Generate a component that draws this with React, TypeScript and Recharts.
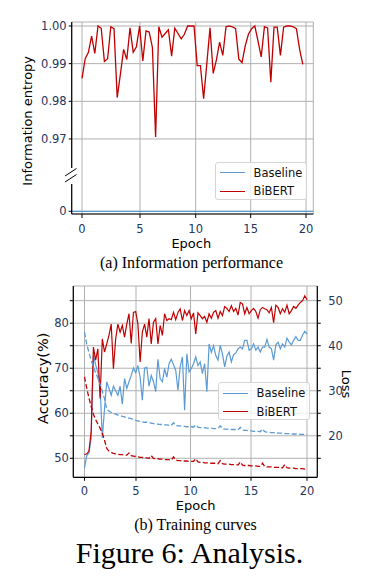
import React from 'react';
import { LineChart, Line, XAxis, YAxis, CartesianGrid, ReferenceLine, Legend } from 'recharts';

// ---------- (a) information entropy ----------
const entropyEpochTicks = [0, 5, 10, 15, 20];
const entropyEpochTickPos = [0, 5.18, 10.15, 15.06, 20];
const entropyStepsPerEpoch = 3.5;
const entropyTicks = [0, 0.97, 0.98, 0.99, 1.0];
const entropyBaseline = 0;
const entropyBiBERT = [
  0.9861, 0.9913, 0.993, 0.9973, 0.9927, 1.0, 0.9994, 0.9906, 0.9913, 0.9998,
  0.9993, 0.981, 0.9872, 0.9938, 0.9911, 0.9995, 0.993, 0.9945, 1.0, 0.9907,
  0.9987, 0.9984, 0.9943, 0.9705, 0.9998, 0.997, 0.998, 0.999, 0.992, 0.9994,
  0.998, 0.9966, 0.9978, 1.0, 1.0, 1.0, 0.9895, 0.9895, 0.9807, 0.99,
  0.9995, 0.9874, 0.991, 0.9957, 0.9922, 0.9998, 1.0, 0.9998, 0.9993, 0.9912,
  0.9903, 0.9947, 0.9978, 0.9993, 1.0, 0.996, 0.9918, 0.9998, 0.9995, 0.9851,
  0.9997, 0.9997, 0.9922, 0.9997, 1.0, 1.0, 0.9998, 0.9993, 0.9938, 0.9898,
];

// ---------- (b) training curves ----------
const trainEpochTicks = [0, 5, 10, 15, 20];
const trainEpochTickPos = [0, 4.63, 9.53, 14.97, 20];
const trainStepsPerEpoch = 5;
const accTicks = [50, 55, 60, 65, 70, 75, 80, 85];
const lossTicks = [15, 20, 25, 30, 35, 40, 45, 50];
const accBaseline = [
  47.8, 50.6, 51.2, 54.5, 73.0, 70.8, 69.0, 66.0, 54.5, 61.0,
  67.0, 65.5, 64.0, 66.0, 65.0, 64.0, 66.0, 62.0, 67.7, 65.5,
  67.0, 68.4, 70.0, 69.0, 70.6, 68.0, 62.9, 70.0, 70.2, 66.0,
  68.4, 67.0, 64.8, 72.0, 67.7, 67.0, 69.9, 68.0, 71.0, 72.0,
  70.8, 69.5, 65.1, 70.3, 72.5, 60.7, 73.2, 69.2, 69.9, 71.0,
  72.5, 70.6, 71.4, 68.8, 71.0, 64.8, 75.4, 73.5, 75.0, 72.8,
  71.8, 75.1, 73.2, 70.3, 72.7, 73.6, 71.4, 73.0, 73.4, 74.3,
  74.7, 74.3, 76.2, 76.2, 74.0, 74.3, 75.4, 74.0, 74.7, 73.6,
  74.7, 74.7, 76.4, 74.7, 74.3, 71.8, 75.2, 75.8, 74.3, 75.4,
  74.7, 76.7, 75.8, 75.2, 76.2, 77.0, 76.2, 76.2, 77.4, 78.2, 77.6,
];
const accBiBERT = [
  50.8, 51.0, 51.6, 56.0, 74.7, 71.8, 74.3, 63.3, 76.5, 73.6,
  75.4, 77.3, 79.8, 69.9, 76.5, 79.8, 78.0, 79.5, 76.9, 79.8,
  82.1, 75.5, 82.4, 82.6, 79.8, 71.4, 78.0, 79.8, 76.9, 81.0,
  75.4, 80.2, 81.0, 75.4, 79.5, 77.3, 82.1, 80.6, 81.0, 80.8,
  82.4, 80.8, 82.4, 83.2, 80.6, 82.8, 81.7, 82.8, 81.0, 82.3,
  77.6, 82.3, 81.7, 81.0, 81.5, 80.2, 82.1, 81.1, 82.4, 82.8,
  81.1, 82.6, 81.7, 83.7, 83.3, 82.6, 83.9, 82.6, 83.3, 81.8,
  84.6, 84.3, 82.1, 83.5, 82.1, 82.8, 83.3, 82.6, 81.1, 83.0,
  83.5, 83.2, 83.0, 82.3, 83.5, 80.1, 84.0, 83.5, 82.1, 83.2,
  82.4, 84.0, 82.1, 82.8, 83.7, 83.3, 84.0, 84.6, 85.0, 86.1, 85.2,
];
const lossBaseline = [
  43.0, 40.3, 38.5, 36.8, 35.3, 34.0, 32.8, 31.4, 29.9, 28.2,
  25.9, 25.5, 25.2, 25.0, 24.8, 24.6, 24.5, 24.3, 24.2, 24.0,
  23.9, 23.8, 23.6, 23.4, 23.3, 23.2, 23.1, 23.0, 23.0, 22.9,
  22.8, 22.7, 22.6, 22.6, 22.5, 22.5, 22.4, 22.4, 22.3, 22.3,
  22.9, 22.3, 22.2, 22.2, 22.1, 22.1, 22.0, 22.0, 22.0, 21.9,
  22.4, 21.9, 21.8, 21.8, 21.8, 21.7, 21.7, 21.7, 21.6, 21.6,
  21.6, 22.2, 21.6, 21.5, 21.5, 21.5, 21.4, 21.4, 21.4, 21.3,
  21.9, 21.3, 21.2, 21.2, 21.1, 21.1, 21.0, 21.0, 21.0, 20.9,
  21.5, 20.9, 20.8, 20.8, 20.7, 20.7, 20.7, 20.6, 20.6, 20.6,
  20.5, 20.5, 20.5, 20.4, 20.4, 20.4, 20.3, 20.3, 20.3, 20.3, 20.3,
];
const lossBiBERT = [
  33.1, 30.6, 28.4, 26.5, 24.8, 23.6, 22.6, 21.7, 20.6, 19.0,
  17.2, 16.6, 16.3, 16.1, 16.0, 15.9, 15.8, 15.8, 15.7, 15.7,
  16.2, 15.6, 15.5, 15.4, 15.3, 15.2, 15.2, 15.1, 15.1, 15.0,
  15.6, 15.0, 14.9, 14.9, 14.8, 14.8, 14.7, 14.7, 14.7, 14.6,
  15.3, 14.6, 14.5, 14.5, 14.4, 14.4, 14.4, 14.3, 14.3, 14.3,
  14.9, 14.2, 14.1, 14.1, 14.0, 14.0, 14.0, 13.9, 13.9, 13.9,
  13.8, 14.5, 13.8, 13.7, 13.7, 13.7, 13.6, 13.6, 13.6, 13.5,
  14.2, 13.5, 13.4, 13.4, 13.4, 13.3, 13.3, 13.3, 13.2, 13.2,
  13.9, 13.2, 13.1, 13.1, 13.1, 13.0, 13.0, 13.0, 12.9, 12.9,
  13.6, 12.9, 12.8, 12.8, 12.8, 12.7, 12.7, 12.7, 12.7, 12.6, 12.6,
];
const seriesNames = ['Baseline', 'BiBERT'];

const BLUE = '#5b9bd5';
const RED = '#c00000';
const GRID = '#b0b0b0';
const TICK = '#24365f';
const FONT = 'DejaVu Sans';
const SERIF = 'Liberation Serif';

// broken y axis: 0.97..1.00 stretched, 0 kept below the break
const BREAK_LOW = 0.97;
const BREAK_OFFSET = 1.92;
const toBroken = (v: number) => (v >= 0.5 ? BREAK_OFFSET + (v - BREAK_LOW) * 100 : v);
const fromBroken = (d: number) => (d >= 0.5 ? ((d - BREAK_OFFSET) / 100 + BREAK_LOW).toFixed(2) : '0');

const entropyRows = entropyBiBERT.map((v, i) => ({ x: i / entropyStepsPerEpoch, bibert: toBroken(v) }));
const trainRows = accBiBERT.map((_, i) => ({
  x: i / trainStepsPerEpoch,
  accBase: accBaseline[i],
  accBi: accBiBERT[i],
  lossBase: lossBaseline[i],
  lossBi: lossBiBERT[i],
}));

const tickStyle = { fill: TICK, fontSize: 11.5, fontFamily: FONT };
const spine = { stroke: '#000', strokeWidth: 1.2 };

const LegendBox = ({ rows }: { rows: number[] }) => (
  <div
    style={{
      width: '100%', height: '100%', boxSizing: 'border-box', position: 'relative',
      border: '1px solid #d5d5d5', borderRadius: 3, background: 'rgba(255,255,255,0.8)',
      fontFamily: FONT, fontSize: 11.5, color: '#111',
    }}
  >
    {seriesNames.map((name, k) => (
      <div
        key={name}
        style={{ position: 'absolute', left: 4, top: rows[k] - 8, height: 16, display: 'flex', alignItems: 'center', whiteSpace: 'nowrap' }}
      >
        <span style={{ display: 'inline-block', width: 25, borderTop: `1.3px solid ${k === 0 ? BLUE : RED}` }} />
        <span style={{ marginLeft: 8.5 }}>{name}</span>
      </div>
    ))}
  </div>
);

const EntropyChart = () => {
  const xDomain = [-0.92, 20.65];
  const yDomain = [-0.072, 5.026];
  return (
    <LineChart width={376} height={250} data={entropyRows} margin={{ top: 22, right: 62.7, bottom: 0, left: 0 }}>
      <CartesianGrid stroke={GRID} strokeWidth={1} />
      <XAxis
        dataKey="x" type="number" domain={xDomain} allowDataOverflow ticks={entropyEpochTickPos}
        tickFormatter={(v: number) => String(entropyEpochTicks[entropyEpochTickPos.indexOf(v)])}
        height={36} tickSize={4} tickMargin={6.5} tick={tickStyle} axisLine={spine} tickLine={{ stroke: '#000' }}
      />
      <XAxis xAxisId="top" orientation="top" type="number" domain={xDomain} allowDataOverflow height={0} tick={false} tickLine={false} axisLine={spine} />
      <YAxis
        type="number" domain={yDomain} allowDataOverflow ticks={entropyTicks.map(toBroken)}
        tickFormatter={(v: number) => fromBroken(v)}
        width={71.7} tickSize={3} tickMargin={2} tick={tickStyle} axisLine={spine} tickLine={{ stroke: '#000' }}
      />
      <YAxis yAxisId="right" orientation="right" type="number" domain={yDomain} allowDataOverflow width={0} tick={false} tickLine={false} axisLine={spine} />
      <ReferenceLine y={toBroken(entropyBaseline)} stroke={BLUE} strokeWidth={1.3} />
      <Line type="linear" dataKey="bibert" stroke={RED} strokeWidth={1.3} dot={false} isAnimationActive={false} />
      <Legend
        layout="horizontal" verticalAlign="middle" align="center"
        wrapperStyle={{ left: 215, top: 162, width: 92, height: 38 }}
        content={() => <LegendBox rows={[9.7, 28]} />}
      />
    </LineChart>
  );
};

const TrainingChart = () => {
  const xDomain = [-1.007, 20.926];
  return (
    <LineChart width={376} height={250} data={trainRows} margin={{ top: 16, right: 0, bottom: 0, left: 0 }}>
      <CartesianGrid yAxisId="acc" stroke={GRID} strokeWidth={1} />
      <XAxis
        dataKey="x" type="number" domain={xDomain} allowDataOverflow ticks={trainEpochTickPos}
        tickFormatter={(v: number) => String(trainEpochTicks[trainEpochTickPos.indexOf(v)])}
        height={42.7} tickSize={3.5} tickMargin={6.5} tick={tickStyle} axisLine={spine} tickLine={{ stroke: '#000' }}
      />
      <XAxis xAxisId="top" orientation="top" type="number" domain={xDomain} allowDataOverflow height={0} tick={false} tickLine={false} axisLine={spine} />
      <YAxis
        yAxisId="acc" type="number" domain={[45.78, 88.26]} allowDataOverflow ticks={accTicks}
        tickFormatter={(v: number) => (v % 10 === 0 ? String(v) : '')}
        width={73.3} tickSize={3.5} tickMargin={1} tick={tickStyle} axisLine={spine} tickLine={{ stroke: '#000' }}
      />
      <YAxis
        yAxisId="loss" orientation="right" type="number" domain={[10.78, 53.26]} allowDataOverflow ticks={lossTicks}
        tickFormatter={(v: number) => (v % 10 === 0 ? String(v) : '')}
        width={58.7} tickSize={3.5} tickMargin={7.5} tick={tickStyle} axisLine={spine} tickLine={{ stroke: '#000' }}
      />
      <Line yAxisId="acc" type="linear" dataKey="accBase" stroke={BLUE} strokeWidth={1.2} dot={false} isAnimationActive={false} />
      <Line yAxisId="acc" type="linear" dataKey="accBi" stroke={RED} strokeWidth={1.2} dot={false} isAnimationActive={false} />
      <Line yAxisId="loss" type="linear" dataKey="lossBase" stroke={BLUE} strokeWidth={1.3} strokeDasharray="5 2.4" dot={false} isAnimationActive={false} />
      <Line yAxisId="loss" type="linear" dataKey="lossBi" stroke={RED} strokeWidth={1.3} strokeDasharray="5 2.4" dot={false} isAnimationActive={false} />
      <Legend
        layout="horizontal" verticalAlign="middle" align="center"
        wrapperStyle={{ left: 218, top: 111.7, width: 92, height: 38.3 }}
        content={() => <LegendBox rows={[10.6, 29]} />}
      />
    </LineChart>
  );
};

export default function App() {
  return (
    <div style={{ position: 'absolute', left: 0, top: 0, width: 376, height: 588, background: '#fff', overflow: 'hidden' }}>
      <div style={{ position: 'absolute', left: 0, top: 0 }}>
        <EntropyChart />
      </div>
      <div style={{ position: 'absolute', left: 0, top: 270 }}>
        <TrainingChart />
      </div>
      <svg width={376} height={588} style={{ position: 'absolute', left: 0, top: 0, pointerEvents: 'none' }}>
        {/* axis break on the left spine of (a) */}
        <rect x={69.5} y={168} width={4.5} height={16} fill="#fff" />
        <line x1={65} y1={176} x2={76.5} y2={168.5} stroke="#000" strokeWidth={1} />
        <line x1={65} y1={182} x2={76.5} y2={174.5} stroke="#000" strokeWidth={1} />

        <g fontFamily={FONT} fontSize={13} fill="#000" textAnchor="middle">
          <text transform="translate(32,120.8) rotate(-90)">Information entropy</text>
          <text x={191.3} y={248}>Epoch</text>
          <text transform="translate(48,378.3) rotate(-90)" fontSize={14.5}>Accuracy(%)</text>
          <text transform="translate(342,384) rotate(90)">Loss</text>
          <text x={195.7} y={510}>Epoch</text>
        </g>
        <g fontFamily={SERIF} fill="#000" textAnchor="middle">
          <text x={191.5} y={267.5} fontSize={16}>(a) Information performance</text>
          <text x={195.5} y={530} fontSize={16}>(b) Training curves</text>
          <text x={189.5} y={562.7} fontSize={30}>Figure 6: Analysis.</text>
        </g>
      </svg>
    </div>
  );
}
